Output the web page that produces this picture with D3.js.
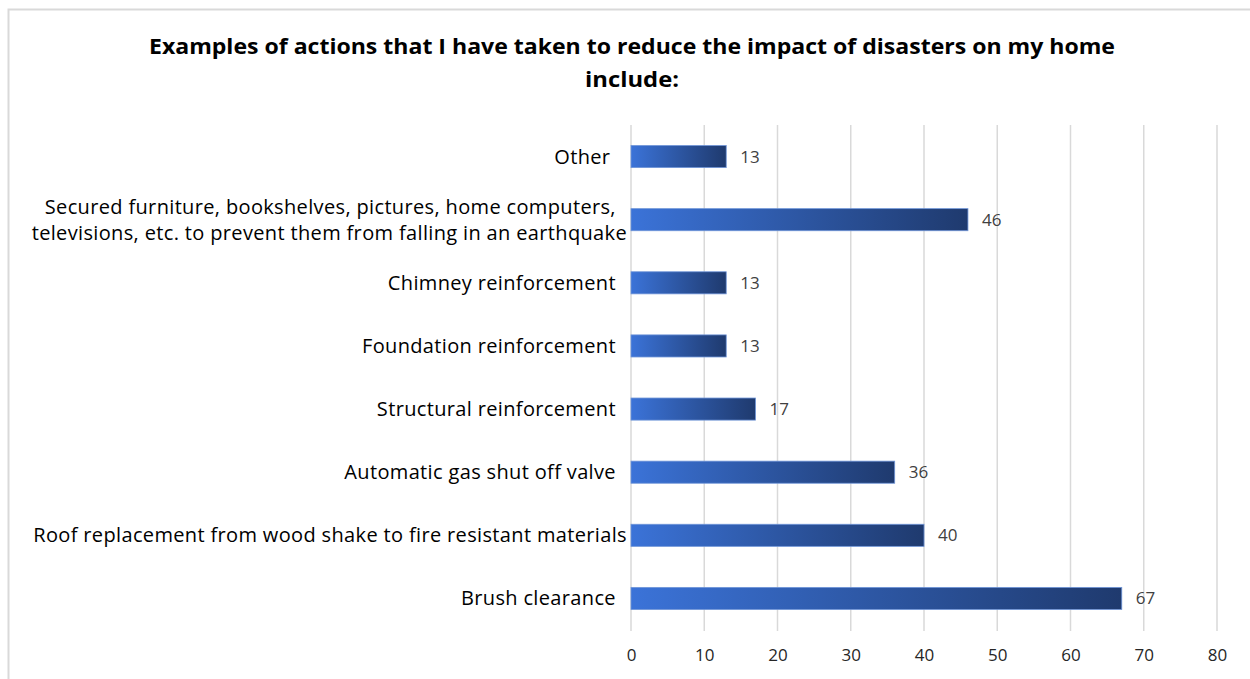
<!DOCTYPE html>
<html><head><meta charset="utf-8">
<script src="https://cdn.jsdelivr.net/npm/d3@7"></script>
<style>body{margin:0;background:#fff}svg{display:block}text{white-space:pre}</style>
</head><body>
<svg id="c" width="1250" height="679"></svg>
<script>
const categories = [
  "Other   ",
  "Secured furniture, bookshelves, pictures, home computers,  |televisions, etc. to prevent them from falling in an earthquake",
  "Chimney reinforcement  ",
  "Foundation reinforcement  ",
  "Structural reinforcement  ",
  "Automatic gas shut off valve  ",
  "Roof replacement from wood shake to fire resistant materials",
  "Brush clearance  "
];
const values = [13, 46, 13, 13, 17, 36, 40, 67];
const tickValues = [0, 10, 20, 30, 40, 50, 60, 70, 80];
const titleLines = ["Examples of actions that I have taken to reduce the impact of disasters on my home", "include:"];

const svg = d3.select("#c");
svg.append("rect").attr("x", 8.5).attr("y", 9.5).attr("width", 1260).attr("height", 700)
  .attr("fill", "none").attr("stroke", "#d9d9d9").attr("stroke-width", 2);

const defs = svg.append("defs");
const grad = defs.append("linearGradient").attr("id", "g").attr("x1", "0").attr("x2", "1").attr("y1", "0").attr("y2", "0");
grad.append("stop").attr("offset", "0%").attr("stop-color", "#3b73d8");
grad.append("stop").attr("offset", "100%").attr("stop-color", "#1f3a6e");

const x = d3.scaleLinear().domain([0, 80]).range([631, 1217]);
const y = d3.scaleBand().domain(categories).range([125, 630]).paddingInner(0.65).paddingOuter(0.325);

svg.append("g").selectAll("line").data(tickValues).join("line")
  .attr("x1", d => x(d)).attr("x2", d => x(d)).attr("y1", 125).attr("y2", 631)
  .attr("stroke", "#d9d9d9").attr("stroke-width", 1.5);

const xa = svg.append("g").attr("transform", "translate(0,631)")
  .call(d3.axisBottom(x).tickValues(tickValues).tickSize(0).tickPadding(18));
xa.select(".domain").remove();
xa.selectAll("text").attr("font-family", "'Open Sans', sans-serif").attr("font-size", 17).attr("fill", "#262626");

svg.append("g").selectAll("text").data(titleLines).join("text")
  .attr("x", 632).attr("y", (d, i) => 54 + i * 33)
  .attr("text-anchor", "middle").attr("font-family", "'Open Sans', sans-serif")
  .attr("font-weight", "bold").attr("font-size", 22).attr("fill", "#000")
  .attr("textLength", (d, i) => i === 0 ? 966 : 94).attr("lengthAdjust", "spacingAndGlyphs")
  .text(d => d);

svg.append("g").selectAll("rect").data(values).join("rect")
  .attr("x", x(0)).attr("y", (d, i) => y(categories[i]))
  .attr("width", d => x(d) - x(0)).attr("height", y.bandwidth())
  .attr("fill", "url(#g)").attr("stroke", "#6f95d8").attr("stroke-width", 0.8);

svg.append("g").selectAll("text").data(values).join("text")
  .attr("x", d => x(d) + 14).attr("y", (d, i) => y(categories[i]) + y.bandwidth() / 2)
  .attr("dy", "0.35em").attr("font-family", "'Open Sans', sans-serif").attr("font-size", 17)
  .attr("fill", "#404040").text(d => d);

const cl = svg.append("g").selectAll("text").data(categories).join("text")
  .attr("x", 627).attr("text-anchor", "end")
  .attr("font-family", "'Open Sans', sans-serif").attr("font-size", 20)
  .attr("letter-spacing", 0.35).attr("fill", "#000");
cl.each(function(d){
  const lines = d.split("|");
  const cy = y(d) + y.bandwidth() / 2;
  const t = d3.select(this);
  lines.forEach((ln, j) => {
    t.append("tspan").attr("x", 627)
      .attr("y", cy + (j - (lines.length - 1) / 2) * 26)
      .attr("dy", "0.35em").text(ln);
  });
});
</script>
</body></html>
